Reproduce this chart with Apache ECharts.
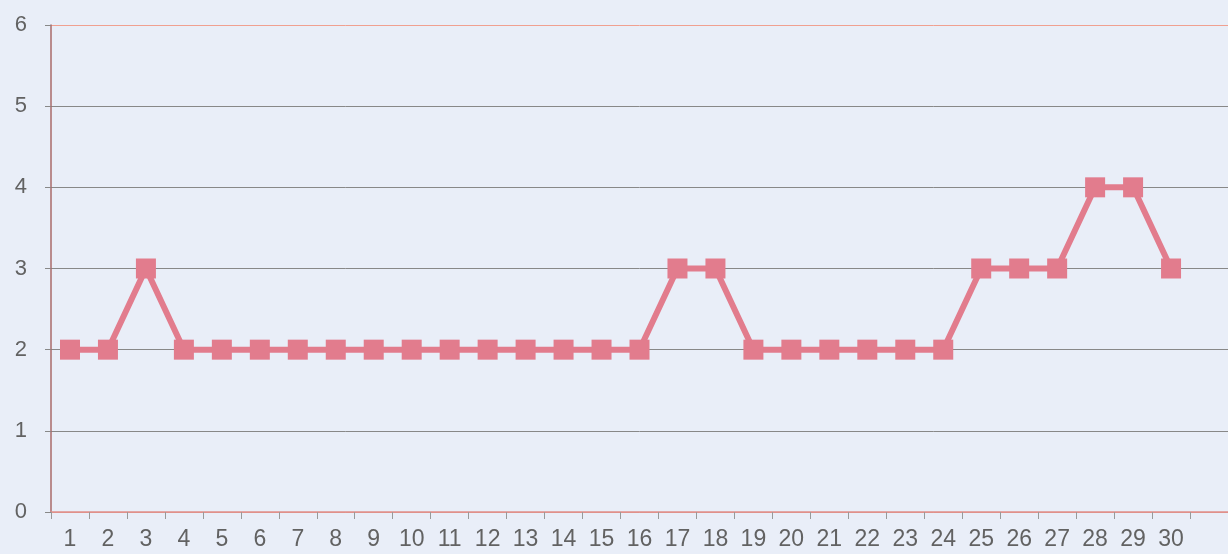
<!DOCTYPE html>
<html>
<head>
<meta charset="utf-8">
<script src="https://cdn.jsdelivr.net/npm/echarts@6/dist/echarts.min.js"></script>
<style>
  html, body { margin: 0; padding: 0; background: #e9eef8; }
  #chart { width: 1228px; height: 554px; }
</style>
</head>
<body>
<div id="chart"></div>
<script>
// categories 1..30
const days = ['1','2','3','4','5','6','7','8','9','10','11','12','13','14','15',
              '16','17','18','19','20','21','22','23','24','25','26','27','28','29','30']
const values = [2, 2, 3, 2, 2, 2, 2, 2, 2, 2, 2, 2, 2, 2, 2,
                2, 3, 3, 2, 2, 2, 2, 2, 2, 3, 3, 3, 4, 4, 3]

const chart = echarts.init(document.getElementById('chart'))

chart.setOption({
    backgroundColor: '#e9eef8',
    animation: false,
    grid: { left: 51, right: -9, top: 25, bottom: 42 },
    xAxis: {
        type: 'category',
        data: days,
        max: 30,
        boundaryGap: true,
        axisLine: { lineStyle: { color: '#e0908a', width: 1.5 } },
        axisTick: { show: true, length: 7, lineStyle: { color: '#999' } },
        axisLabel: {
            color: '#626262',
            fontFamily: 'Liberation Sans',
            fontSize: 23,
            margin: 16
        }
    },
    yAxis: {
        type: 'value',
        min: 0,
        max: 6,
        interval: 1,
        axisLine: { show: true, lineStyle: { color: '#a86a6a', width: 1.5 } },
        axisTick: { show: true, length: 6, lineStyle: { color: '#888' } },
        axisLabel: {
            color: '#626262',
            fontFamily: 'Liberation Sans',
            fontSize: 22,
            margin: 24
        },
        splitLine: {
            lineStyle: {
                color: ['#e0908a', '#888', '#888', '#888', '#888', '#888', '#f0a090'],
                width: 1
            }
        }
    },
    series: [{
        type: 'line',
        data: values,
        symbol: 'rect',
        symbolSize: 20,
        lineStyle: { color: '#e27c8d', width: 6 },
        itemStyle: { color: '#e27c8d' }
    }]
})
</script>
</body>
</html>
